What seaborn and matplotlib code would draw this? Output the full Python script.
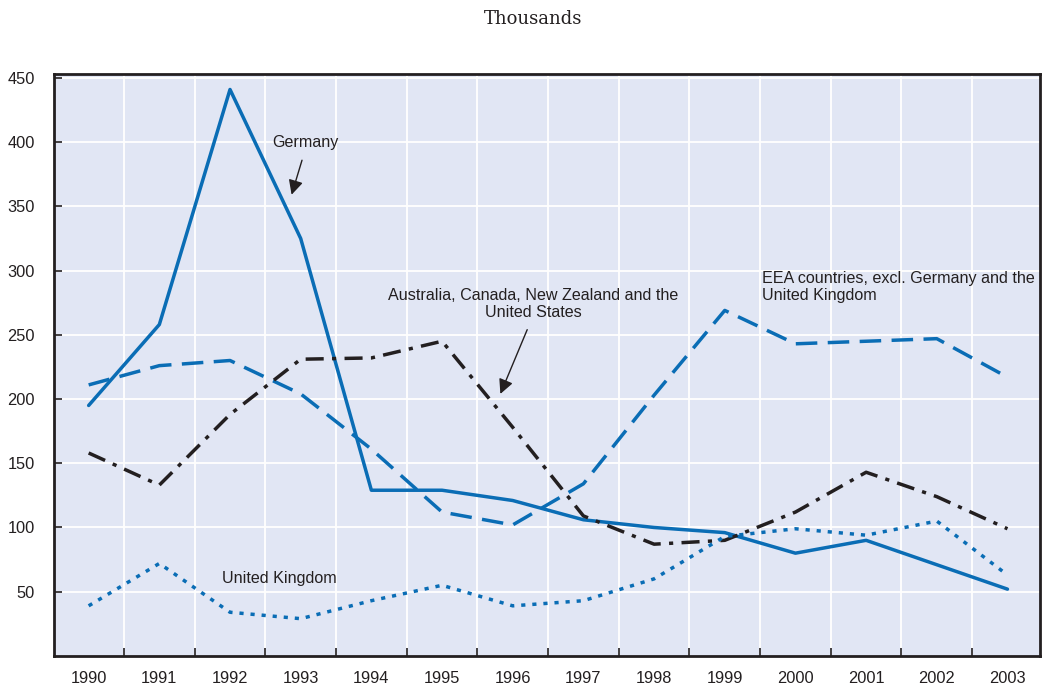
import numpy as np
import pandas as pd
import matplotlib.pyplot as plt
import seaborn as sns
from matplotlib.ticker import FixedLocator

# 데이터 (단위: 천 명)
years = list(range(1990, 2004))
germany = [195, 258, 441, 325, 129, 129, 121, 106, 100, 96, 80, 90, 71, 52]
eea = [211, 226, 230, 204, 161, 112, 102, 134, 203, 269, 243, 245, 247, 217]
anz_us = [158, 133, 188, 231, 232, 245, 178, 109, 87, 90, 112, 143, 124, 99]
uk = [39, 72, 34, 29, 43, 55, 39, 43, 60, 93, 99, 94, 105, 63]

blue = "#0a6db5"
black = "#231f20"
dark = "#231f20"

sns.set_style("whitegrid", {
    "axes.facecolor": "#e1e6f4",
    "grid.color": "white",
    "axes.edgecolor": dark,
})
plt.rcParams["font.family"] = ["Liberation Sans", "DejaVu Sans"]

fig = plt.figure(figsize=(10.45, 6.89), dpi=100)
ax = fig.add_axes([0.0517, 0.048, 0.9435, 0.8445])

lw = 2.5
sns.lineplot(x=years, y=germany, color=blue, lw=lw, ax=ax)
sns.lineplot(x=years, y=eea, color=blue, lw=lw, linestyle=(0, (6.2, 3.0)), ax=ax)
sns.lineplot(x=years, y=anz_us, color=black, lw=lw, linestyle=(0, (5.2, 2.4, 1.2, 2.4)), ax=ax)
sns.lineplot(x=years, y=uk, color=blue, lw=lw, linestyle=(0, (1.2, 2.0)), ax=ax)

ax.set_xlim(1989.51, 2003.46)
ax.set_ylim(0, 453)

# x축: 눈금/격자는 연도 사이, 라벨은 연도 중앙
ax.xaxis.set_major_locator(FixedLocator([y + 0.5 for y in years[:-1]]))
ax.xaxis.set_minor_locator(FixedLocator(years))
ax.set_xticklabels([])
ax.set_xticklabels([str(y) for y in years], minor=True)
ax.tick_params(axis="x", which="major", direction="in", length=6, width=1.2, color=dark, bottom=True)
ax.tick_params(axis="x", which="minor", length=0, pad=11, labelsize=11.8, labelcolor=dark)

ax.set_yticks(range(50, 451, 50))
ax.tick_params(axis="y", direction="in", length=6, width=1.2, color=dark, left=True, pad=14,
               labelsize=11.8, labelcolor=dark)
ax.grid(True, which="major", color="white", lw=1.3)

for s in ax.spines.values():
    s.set_visible(True)
    s.set_color(dark)
    s.set_linewidth(2.0)

ax.set_xlabel("")
ax.set_ylabel("")

# 주석
fs = 11.6
ax.text(1993.07, 400, "Germany", ha="center", va="center", fontsize=fs, color=dark)
ax.annotate("", xy=(1992.86, 357), xytext=(1993.03, 388),
            arrowprops=dict(arrowstyle="-|>", color=dark, lw=1, mutation_scale=22))
ax.text(1996.29, 274, "Australia, Canada, New Zealand and the\nUnited States",
        ha="center", va="center", fontsize=fs, color=dark, linespacing=1.2)
ax.annotate("", xy=(1995.81, 202), xytext=(1996.22, 256),
            arrowprops=dict(arrowstyle="-|>", color=dark, lw=1, mutation_scale=22))
ax.text(1999.52, 287, "EEA countries, excl. Germany and the\nUnited Kingdom",
        ha="left", va="center", fontsize=fs, color=dark, linespacing=1.2)
ax.text(1991.88, 60, "United Kingdom", ha="left", va="center", fontsize=fs, color=dark)

fig.text(0.51, 0.973, "Thousands", ha="center", va="center", fontsize=13,
         family=["DejaVu Serif"], color=dark)

fig.savefig("out.png", dpi=100)
